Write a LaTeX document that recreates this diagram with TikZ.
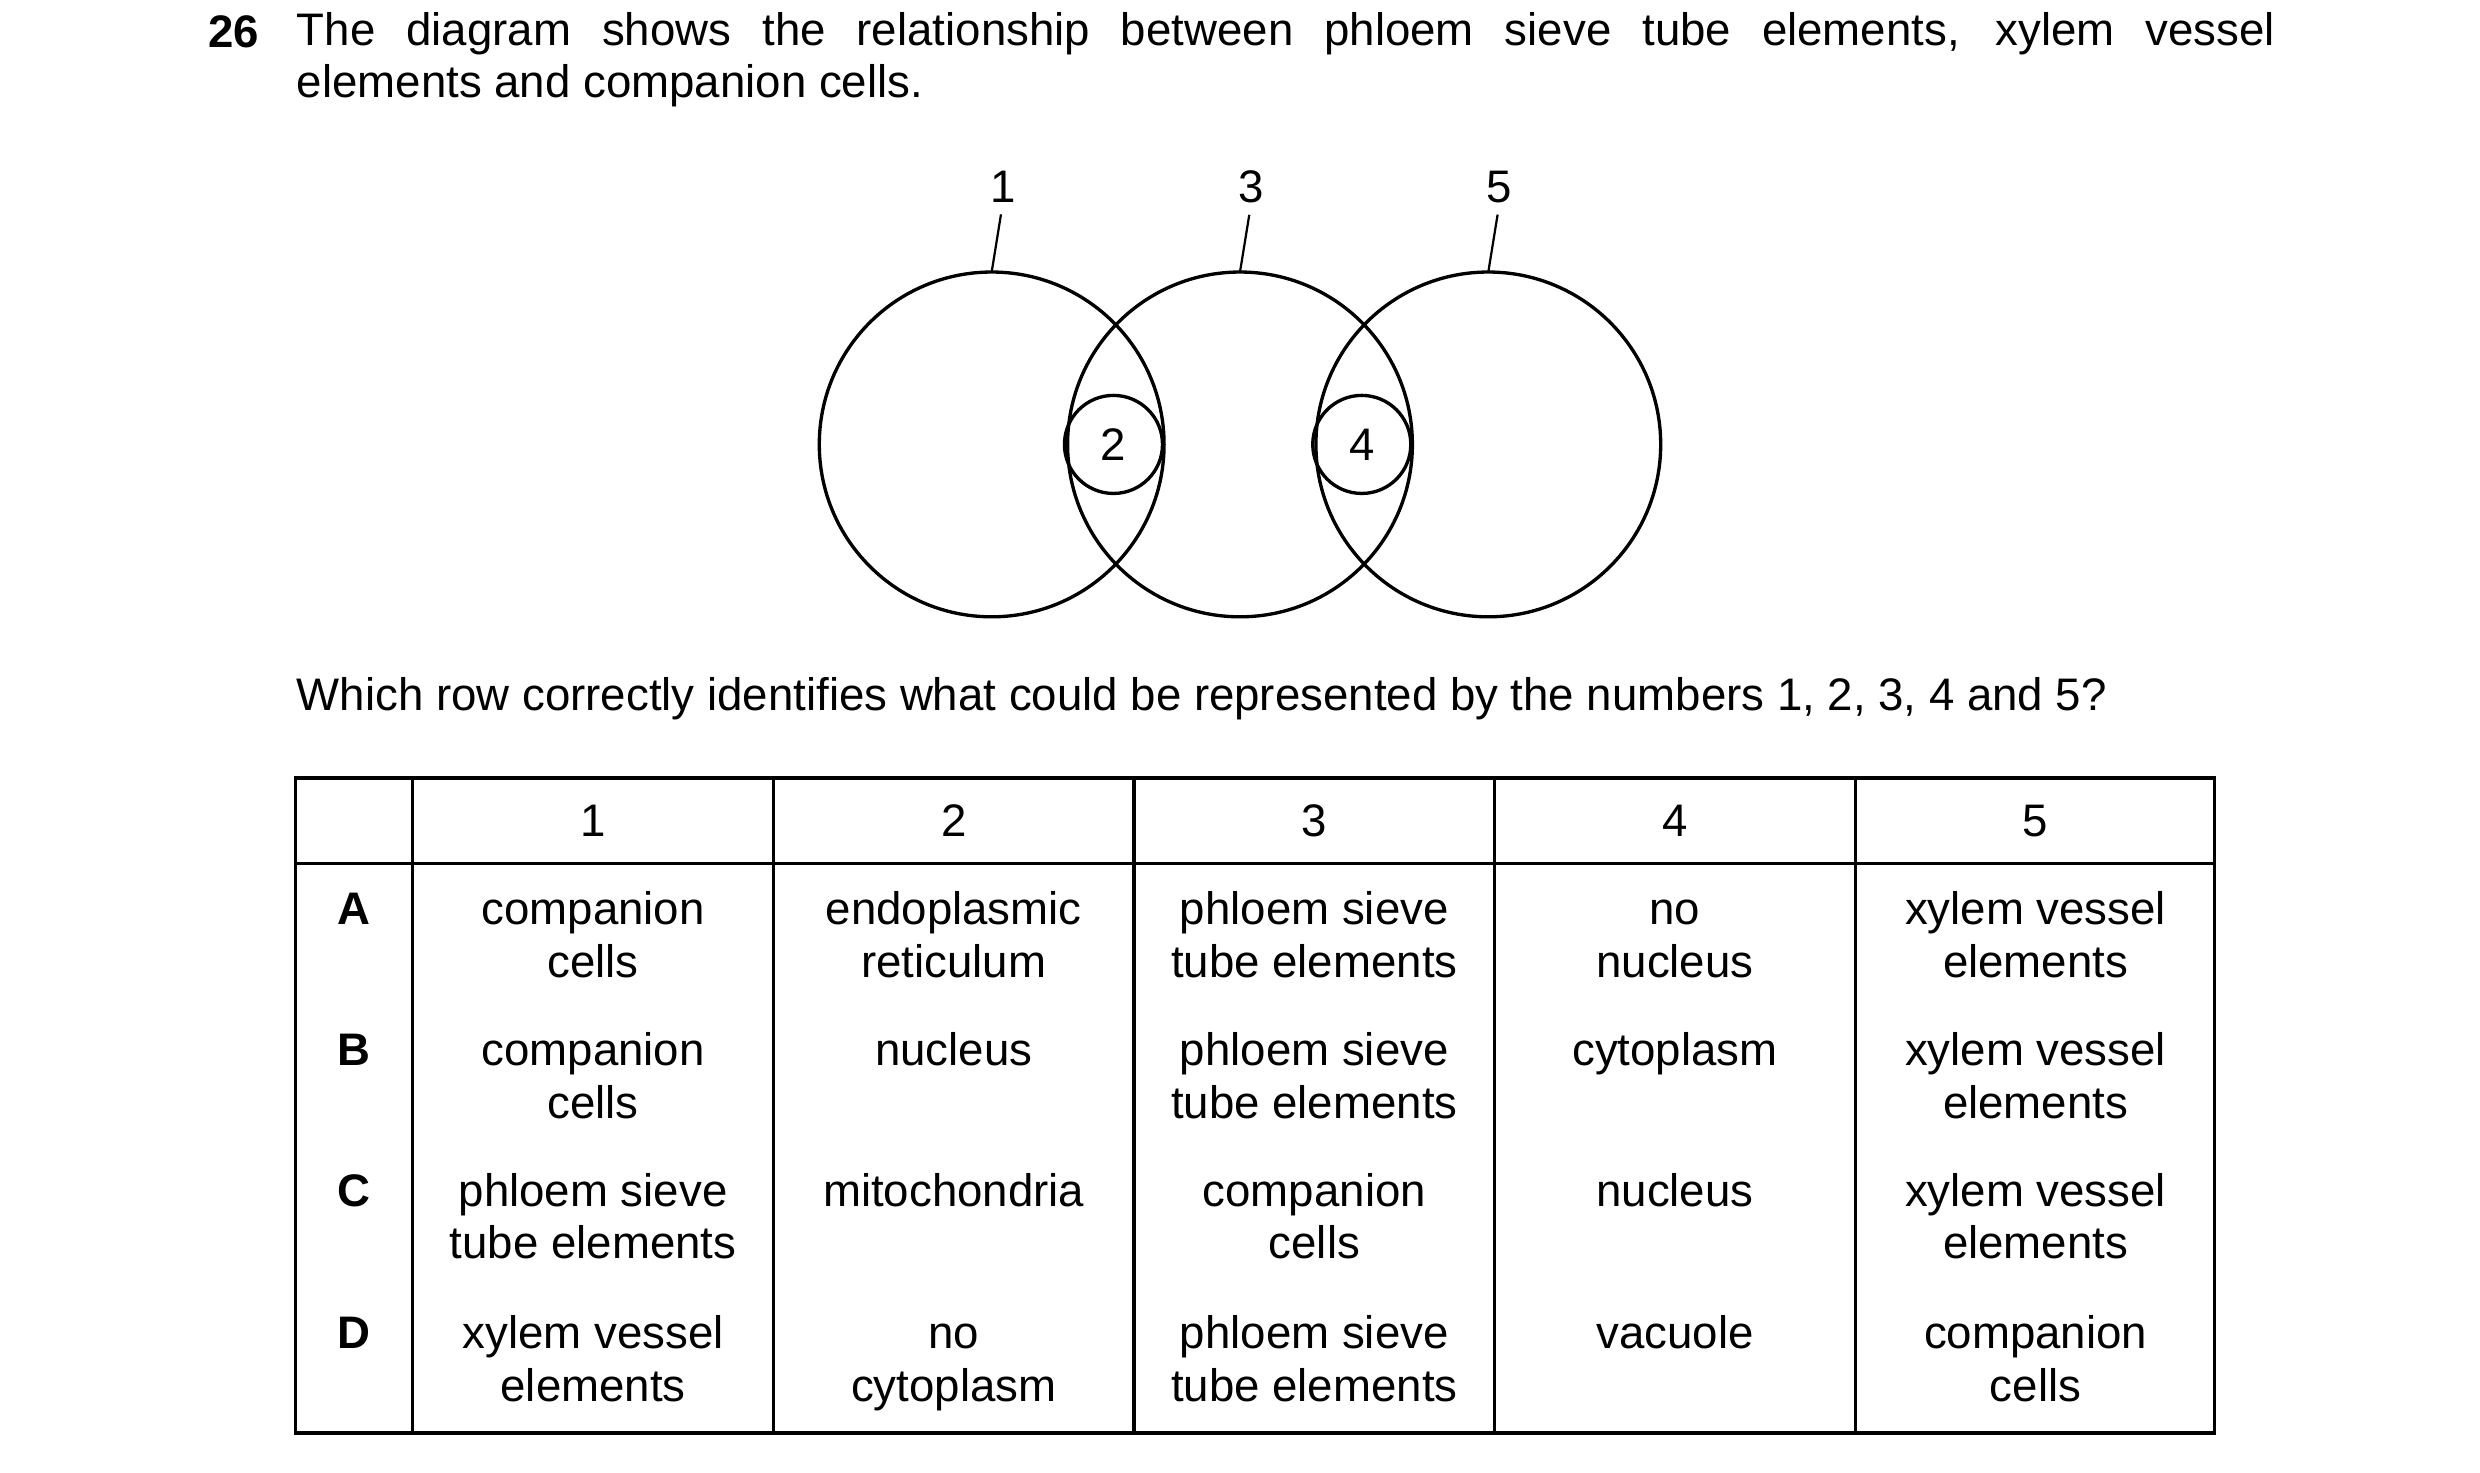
\documentclass[tikz,border=0pt]{standalone}
\usepackage{fontspec}
\setmainfont{Liberation Sans}
\begin{document}
\begin{tikzpicture}[x=0.01cm,y=-0.01cm,
    txt/.style={font=\fontsize{8.2}{9.4}\selectfont, inner sep=0pt},
    cell/.style={txt, align=center, anchor=north},
    ring/.style={draw, line width=0.6pt}]
    \useasboundingbox (0,0) rectangle (1568,931);
    % Question
    \node[txt, anchor=west, font=\fontsize{8.2}{9.4}\selectfont\bfseries] (num) at (131,20) {26};
    \node[txt, anchor=north west, text width=12.5cm, align=justify] (q) at (187,7)
        {The diagram shows the relationship between phloem sieve tube elements, xylem vessel\linebreak elements and companion cells.};
    % Circles
    \foreach \n/\x in {1/627,3/784,5/941} {
        \draw[ring] (\x,281) circle (109);
        \node[txt] (l\n) at (\x+7,118) {\n};
        \coordinate (t\n) at (\x,172);
        \draw[line width=0.4pt, shorten >=0.07cm] (t\n) -- (l\n.south);
    }
    \foreach \n/\x in {2/704,4/861} {
        \draw[ring] (\x,281) circle (31);
        \node[txt] (c\n) at (\x,281) {\n};
    }
    \node[txt, anchor=west] (ask) at (187,442) {Which row correctly identifies what could be represented by the numbers 1, 2, 3, 4 and 5?};
    % Table
    \draw[line width=0.6pt] (187,492) rectangle (1400,906);
    \draw[line width=0.6pt] (187,546) -- (1400,546);
    \foreach \x in {261,489,717,945,1173} \draw[line width=0.6pt] (\x,492) -- (\x,906);
    \foreach \h/\x in {1/375,2/603,3/831,4/1059,5/1287} \node[txt] (h\h) at (\x,519) {\h};
    \foreach \r/\y in {A/561,B/650,C/739,D/829} \node[cell, font=\fontsize{8.2}{9.4}\selectfont\bfseries] (r\r) at (224,\y) {\strut\r};
    \foreach \x/\t in {375/{companion\\cells},603/{endoplasmic\\reticulum},831/{phloem sieve\\tube elements},1059/{no\\nucleus},1287/{xylem vessel\\elements}}
        \node[cell] at (\x,561) {\strut\t};
    \foreach \x/\t in {375/{companion\\cells},603/{nucleus},831/{phloem sieve\\tube elements},1059/{cytoplasm},1287/{xylem vessel\\elements}}
        \node[cell] at (\x,650) {\strut\t};
    \foreach \x/\t in {375/{phloem sieve\\tube elements},603/{mitochondria},831/{companion\\cells},1059/{nucleus},1287/{xylem vessel\\elements}}
        \node[cell] at (\x,739) {\strut\t};
    \foreach \x/\t in {375/{xylem vessel\\elements},603/{no\\cytoplasm},831/{phloem sieve\\tube elements},1059/{vacuole},1287/{companion\\cells}}
        \node[cell] at (\x,829) {\strut\t};
\end{tikzpicture}
\end{document}
